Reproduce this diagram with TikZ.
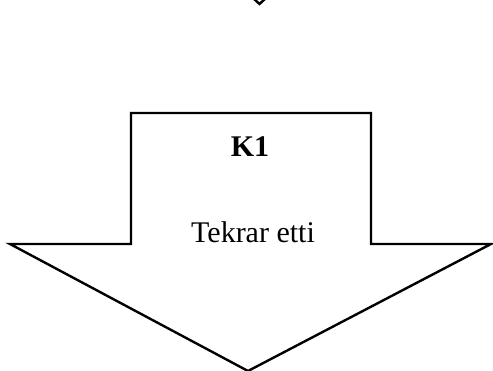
\documentclass[tikz,border=0pt]{standalone}
\usepackage{fontspec}
\setmainfont{Liberation Serif}
\begin{document}
\begin{tikzpicture}[x=1pt,y=-1pt,
  outline/.style={draw=black,line width=2.4pt,line join=miter,fill=white},
  lbl/.style={font=\fontsize{30}{36}\selectfont,inner sep=0pt}]
\useasboundingbox (0,0) rectangle (493,371);
\coordinate (c1) at (253,-2);
\coordinate (c2) at (259.5,4);
\coordinate (c3) at (266,-2);
\draw[line width=2.4pt] (c1) -- (c2) -- (c3);
\draw[outline] (131,113) -- (371,113) -- (371,244) -- (491,244) -- (248,371) -- (10,244) -- (131,244) -- cycle;
\node[lbl,font=\fontsize{30}{36}\selectfont\bfseries] (k1) at (250,147) {K1};
\node[lbl] (t) at (253,232) {Tekrar etti};
\end{tikzpicture}
\end{document}
